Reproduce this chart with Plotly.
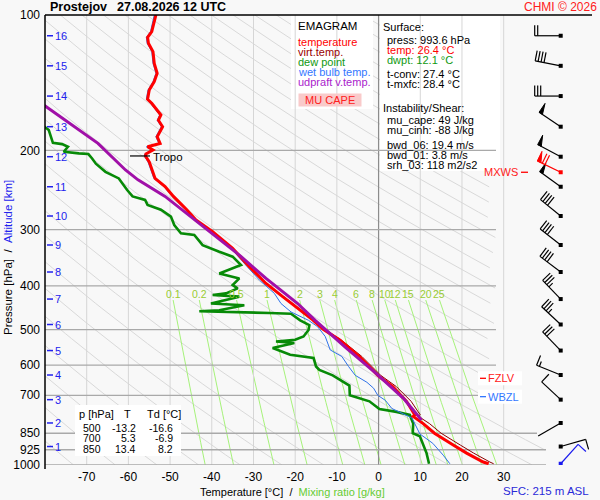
import math
import numpy as np
import plotly.graph_objects as go

# ---------------- data ----------------
station = "Prostejov"
valid_time = "27.08.2026 12 UTC"

# temperature profile (hPa, degC)
temp_p = [100, 108.9, 112.1, 115.6, 120.6, 128.1, 134.7, 140.6, 146.8, 153.9, 157.1, 166.8, 171.3, 177.1,
          186.4, 192.9, 196.3, 199.5, 203.7, 205.7, 212, 221.4, 230.8, 240.6, 253, 270.9, 285.6, 303, 330,
          362.6, 395, 422.6, 445.5, 476, 500, 527, 574, 632, 670, 700, 722, 774, 780, 809, 850, 903, 941,
          985, 993.6]
temp_T = [-53.4, -54.4, -55.4, -55.2, -54.1, -53.8, -53.1, -53.8, -55.0, -55.4, -54.4, -52.2, -52.8, -51.8,
          -53.1, -52.4, -55.4, -54.1, -55.8, -55.9, -55.0, -54.3, -53.6, -51.2, -49.2, -46.0, -43.8, -39.8,
          -35.0, -31.0, -27.0, -23.0, -19.8, -15.8, -13.2, -9.4, -4.6, -0.2, 3.4, 5.3, 6.7, 8.7, 8.3, 10.7,
          13.4, 17.9, 21.1, 25.1, 26.4]

# virtual temperature (lower part, where it differs visibly)
virt_p = [395, 422.6, 445.5, 476, 500, 527, 574, 632, 670, 700, 722, 774, 780, 809, 850, 903, 941, 985, 993.6]
virt_T = [-26.9, -22.8, -19.6, -15.5, -12.9, -9.0, -4.0, 0.5, 4.3, 6.3, 7.8, 10.0, 9.6, 12.2, 15.0, 19.6,
          22.8, 26.7, 27.6]

# dew point
dew_p = [175.5, 180.2, 192.3, 193.6, 196.3, 201.3, 203.0, 203.7, 208.4, 214.0, 223.1, 230.8, 244.9, 253.0,
         257.6, 264.2, 270.9, 280.5, 292.9, 305.5, 308.2, 324.6, 335.8, 344.4, 359.4, 375.2, 384.9, 398.2,
         405.0, 415.5, 419.1, 422.6, 437.7, 441.6, 453.2, 455.5, 459.4, 461.1, 477.0, 489.0, 501.0, 518.0,
         527.0, 531.6, 535.8, 549.5, 569.0, 578.0, 604.0, 615.0, 632.0, 666.0, 700.0, 722.0, 751.0, 762.0,
         774.0, 809.0, 850.0, 863.0, 941.0, 985.0, 993.6]
dew_T = [-80.7, -79.1, -78.1, -75.9, -74.5, -75.5, -71.9, -69.6, -68.7, -67.8, -65.5, -62.3, -60.3, -59.0,
         -56.0, -55.4, -52.2, -49.8, -49.0, -47.4, -44.2, -42.2, -38.2, -35.0, -33.0, -38.2, -33.4, -35.0,
         -33.8, -36.6, -39.8, -33.4, -40.2, -32.2, -38.2, -43.0, -26.2, -21.0, -18.8, -16.6, -16.8, -18.0,
         -20.0, -24.6, -20.2, -25.4, -21.2, -15.6, -15.0, -14.2, -11.0, -7.0, -6.9, -2.2, 0.2, 4.3,
         7.5, 8.3, 8.2, 9.9, 11.5, 11.9, 12.1]

# wet bulb temperature
wb_p = [100, 108.9, 112.1, 115.6, 120.6, 128.1, 134.7, 140.6, 146.8, 153.9, 157.1, 166.8, 171.3, 177.1,
        186.4, 192.9, 196.3, 199.5, 203.7, 205.7, 212, 221.4, 230.8, 240.6, 253, 270.9, 285.6, 303, 330,
        362.6, 388, 415.5, 437.7, 457, 477, 493, 518, 555, 574, 604, 632, 655, 675, 700, 718, 749, 774, 786,
        853, 895, 951, 993.6]
wb_T = [-53.8, -54.7, -55.7, -55.5, -54.4, -54.1, -53.4, -54.1, -55.3, -55.7, -54.7, -52.5, -53.1, -52.1,
        -53.4, -52.7, -55.7, -54.4, -56.1, -56.2, -55.3, -54.6, -53.9, -51.5, -49.5, -46.3, -44.1, -40.1,
        -35.4, -31.5, -28.6, -25.0, -23.4, -21.0, -16.8, -14.6, -12.8, -11.6, -8.8, -7.2, -5.6, -2.8, -1.2,
        -0.2, 1.6, 3.2, 6.5, 8.0, 9.9, 13.0, 15.5, 17.1]

# updraft (MU parcel) virtual temperature
upd_p = [158.5, 171.3, 192.9, 221.0, 232.4, 253.0, 276.0, 283.0, 310.7, 341.5, 385.0, 422.6, 437.7, 477.0,
         549.5, 626.0, 710.0, 786.0, 794.0]
upd_T = [-80.3, -75.1, -67.3, -60.7, -57.7, -51.2, -46.0, -44.6, -39.0, -33.4, -27.0, -21.4, -19.4, -15.2,
         -7.8, -0.6, 5.9, 9.9, 10.3]

# altitude scale (km -> hPa) and winds at these levels (deg, kt)
alt_km = [16, 15, 14, 13, 12, 11, 10, 9, 8, 7, 6, 5, 4, 3, 2, 1]
alt_p = [111.2, 129.7, 151.4, 177.1, 206.5, 240.8, 279.7, 324.4, 372.5, 427.8, 487.3, 556.8, 631.0, 715.8,
         806.5, 909.8]
wind_dir = [270, 281, 270, 304, 298, 306, 309, 308, 307, 316, 313, 316, 292, 313, 240, 74]
wind_spd = [20, 40, 30, 50, 50, 50, 40, 40, 40, 35, 35, 30, 15, 10, 3, 10]
mxws_p, mxws_dir, mxws_spd = 223.6, 296, 70
sfc_p, sfc_dir, sfc_spd = 993.6, 42, 10

tropo_p = 205.7
fzlv_p = 641.7
wbzl_p = 704.9

# mixing ratio isopleths (g/kg)
mr_values = [0.1, 0.2, 0.5, 1, 2, 3, 4, 6, 8, 10, 12, 15, 20, 25]
mr_labels = ["0.1", "0.2", "0.5", "1", "2", "3", "4", "6", "8", "10", "12", "15", "20", "25"]

isobars = [200, 300, 400, 500, 600, 700, 850, 925, 1000]
ylabels = [100, 200, 300, 400, 500, 600, 700, 850, 925, 1000]
isotherms = [-70, -60, -50, -40, -30, -20, -10, 0, 10, 20, 30]

tbl_p = [500, 700, 850]
tbl_T = [-13.2, 5.3, 13.4]
tbl_Td = [-16.6, -6.9, 8.2]

surface_info = [
    ("Surface:", "black", 382, 27),
    ("press: 993.6 hPa", "black", 386, 40),
    ("temp: 26.4 \u00b0C", "#ff0000", 386, 50),
    ("dwpt: 12.1 \u00b0C", "#119911", 386, 60),
    ("t-conv: 27.4 \u00b0C", "black", 386, 74),
    ("t-mxfc: 28.4 \u00b0C", "black", 386, 84),
    ("Instability/Shear:", "black", 382, 108),
    ("mu_cape: 49 J/kg", "black", 386, 120),
    ("mu_cinh: -88 J/kg", "black", 386, 130),
    ("bwd_06: 19.4 m/s", "black", 386, 145),
    ("bwd_01: 3.8 m/s", "black", 386, 155),
    ("srh_03: 118 m2/s2", "black", 386, 165),
]
legend_items = [("temperature", "#ff0000"), ("virt.temp.", "#990000"), ("dew point", "#119911"),
                ("wet bulb temp.", "#3377ff"), ("udpraft v.temp.", "#aa22cc")]

# ---------------- geometry helpers ----------------
FONT = "Liberation Sans, Arial, sans-serif"
W, H = 600, 500
ML, MR, MT, MB = 45, 0, 15, 35
PW, PH = W - ML - MR, H - MT - MB
XR = [-80.0, 53.1]
BG = "#f8f8f8"


def px_T(px):
    return XR[0] + (px - ML) * (XR[1] - XR[0]) / PW


def py_p(py):
    return 10 ** (2 + (py - MT) / PH)


def T_px(T):
    return ML + (T - XR[0]) * PW / (XR[1] - XR[0])


def p_py(p):
    return MT + (math.log10(p) - 2) * PH


def xp(px):
    return (px - ML) / PW


def yp(py):
    return (H - MB - py) / PH


def box(x0, y0, x1, y1, color="white"):
    xs = [px_T(x0), px_T(x1), px_T(x1), px_T(x0), px_T(x0)]
    ys = [py_p(y0), py_p(y0), py_p(y1), py_p(y1), py_p(y0)]
    return go.Scatter(x=xs, y=ys, mode="lines", fill="toself", fillcolor=color,
                      line=dict(width=0, color=color), hoverinfo="skip")


fig = go.Figure()

# dry adiabats
pp = np.logspace(2, 3, 90)
ax, ay = [], []
for theta in range(190, 600, 10):
    T = theta * (pp / 1000.0) ** 0.2857 - 273.15
    for p, t in zip(pp, T):
        tmax = 40.0 if p >= 805 else px_T(496)
        if t <= tmax:
            ax.append(t)
            ay.append(p)
        else:
            ax.append(None)
            ay.append(None)
    ax.append(None)
    ay.append(None)
fig.add_trace(go.Scatter(x=ax, y=ay, mode="lines", line=dict(color="#d9d9d9", width=1), hoverinfo="skip"))

# mixing ratio lines
mp = np.logspace(math.log10(430), 3, 30)
mx, my = [], []
mr_top = []
for w in mr_values:
    e = w * mp / (622.0 + w)
    a = np.log(e / 6.112)
    td = 243.5 * a / (17.67 - a)
    mx += list(td) + [None]
    my += list(mp) + [None]
    mr_top.append(td[0])
fig.add_trace(go.Scatter(x=mx, y=my, mode="lines", line=dict(color="#a6f27a", width=1), hoverinfo="skip"))

# white text boxes
fig.add_trace(box(291, 15, 373, 109))
fig.add_trace(box(380, 15, 500, 171))

# isotherms
vx, vy = [], []
for t in isotherms:
    if t != 0:
        vx += [t, t, None]
        vy += [100, 1000, None]
fig.add_trace(go.Scatter(x=vx, y=vy, mode="lines", line=dict(color="#d6d6d6", width=1), hoverinfo="skip"))
fig.add_trace(go.Scatter(x=[0, 0], y=[100, 1000], mode="lines", line=dict(color="#8c8c8c", width=1.2),
                         hoverinfo="skip"))

# isobars
hx, hy = [], []
for p in isobars:
    right = 496 if p <= 700 else (537 if p == 850 else 546)
    hx += [XR[0], px_T(right), None]
    hy += [p, p, None]
fig.add_trace(go.Scatter(x=hx, y=hy, mode="lines", line=dict(color="#a9a9a9", width=1.3), hoverinfo="skip"))

# table + level label boxes
fig.add_trace(box(75, 405, 181, 456))
fig.add_trace(box(478, p_py(fzlv_p) - 7, 522, p_py(fzlv_p) + 7))
fig.add_trace(box(478, p_py(wbzl_p) - 7, 522, p_py(wbzl_p) + 7))

# profiles
fig.add_trace(go.Scatter(x=dew_T, y=dew_p, mode="lines", line=dict(color="#078a07", width=2.6), hoverinfo="skip"))
fig.add_trace(go.Scatter(x=wb_T, y=wb_p, mode="lines", line=dict(color="#2f72e8", width=1), hoverinfo="skip"))
fig.add_trace(go.Scatter(x=virt_T, y=virt_p, mode="lines", line=dict(color="#8b0000", width=1), hoverinfo="skip"))
fig.add_trace(go.Scatter(x=temp_T, y=temp_p, mode="lines", line=dict(color="#ff0000", width=3), hoverinfo="skip"))
fig.add_trace(go.Scatter(x=upd_T, y=upd_p, mode="lines", line=dict(color="#a010a8", width=3), hoverinfo="skip"))

# tropopause mark
fig.add_trace(go.Scatter(x=[px_T(130), px_T(150)], y=[tropo_p, tropo_p], mode="lines",
                         line=dict(color="black", width=1.2), hoverinfo="skip"))

# altitude dashes
dx, dy = [], []
for p in alt_p:
    dx += [px_T(47), px_T(53), None]
    dy += [p, p, None]
fig.add_trace(go.Scatter(x=dx, y=dy, mode="lines", line=dict(color="#2222ee", width=1.5), hoverinfo="skip"))


# wind barbs
def barb(px0, py0, ddeg, spd):
    L, BL, SP, PWID = 26.0, 10.5, 3.0, 4.0
    d = math.radians(ddeg)
    ux, uy = math.sin(d), -math.cos(d)
    bx, by = math.cos(d), math.sin(d)
    ex, ey = px0 + L * ux, py0 + L * uy
    segs = [[(px0, py0), (ex, ey)]]
    tris = []
    n50 = int(spd // 50)
    rem = spd - 50 * n50
    n10 = int(rem // 10)
    rem -= 10 * n10
    n5 = 1 if rem >= 5 else 0
    pos = 0.0
    for _ in range(n50):
        a = (ex - pos * ux, ey - pos * uy)
        tris.append([a, (a[0] + BL * bx, a[1] + BL * by), (ex - (pos + PWID) * ux, ey - (pos + PWID) * uy)])
        pos += PWID + 1.5
    for _ in range(n10):
        a = (ex - pos * ux, ey - pos * uy)
        segs.append([a, (a[0] + BL * bx, a[1] + BL * by)])
        pos += SP
    if n5:
        if pos == 0:
            pos = SP
        a = (ex - pos * ux, ey - pos * uy)
        segs.append([a, (a[0] + 0.5 * BL * bx, a[1] + 0.5 * BL * by)])
    return segs, tris


def add_barbs(levels, dirs, spds, color):
    lx, ly, tx, ty, ox, oy = [], [], [], [], [], []
    for p, dd, ss in zip(levels, dirs, spds):
        px0, py0 = 560.7, p_py(p)
        segs, tris = barb(px0, py0, dd, ss)
        for s in segs:
            for (x, y) in s:
                lx.append(px_T(x))
                ly.append(py_p(y))
            lx.append(None)
            ly.append(None)
        for t in tris:
            for (x, y) in t + [t[0]]:
                tx.append(px_T(x))
                ty.append(py_p(y))
            tx.append(None)
            ty.append(None)
        ox.append(px_T(px0))
        oy.append(p)
    fig.add_trace(go.Scatter(x=lx, y=ly, mode="lines", line=dict(color=color, width=1.2), hoverinfo="skip"))
    if tx:
        fig.add_trace(go.Scatter(x=tx, y=ty, mode="lines", fill="toself", fillcolor=color,
                                 line=dict(color=color, width=1), hoverinfo="skip"))
    fig.add_trace(go.Scatter(x=ox, y=oy, mode="markers", marker=dict(symbol="square", size=4, color=color),
                             hoverinfo="skip"))


add_barbs(alt_p, wind_dir, wind_spd, "black")
add_barbs([mxws_p], [mxws_dir], [mxws_spd], "#ff0000")
add_barbs([sfc_p], [sfc_dir], [sfc_spd], "#1a1aee")

# level dashes for FZLV / WBZL / MXWS
for p, col, x0, x1 in [(fzlv_p, "#ff0000", 480, 486), (wbzl_p, "#3377ff", 480, 486), (mxws_p, "#ff0000", 521, 528)]:
    fig.add_trace(go.Scatter(x=[px_T(x0), px_T(x1)], y=[p, p], mode="lines", line=dict(color=col, width=1.3),
                             hoverinfo="skip"))

# ---------------- annotations ----------------
ann = []


def A(text, px, py, color="black", size=11, xanchor="left", bg=None, angle=0):
    d = dict(text=text, x=xp(px), y=yp(py), xref="paper", yref="paper", showarrow=False, xanchor=xanchor,
             yanchor="middle", font=dict(family=FONT, size=size, color=color), borderpad=0, textangle=angle)
    if bg:
        d["bgcolor"] = bg
    ann.append(d)


A("<b>" + station + "</b>", 49, 7, size=12.5)
A("<b>" + valid_time + "</b>", 116, 7, size=12.5)
A("CHMI \u00a9 2026", 598, 7, color="#ff2020", size=12, xanchor="right")

A("EMAGRAM", 297, 26, size=11.5)
for i, (txt, col) in enumerate(legend_items):
    A(txt, 297, 42 + 10 * i, color=col, size=11)
A("\u00a0\u00a0MU CAPE\u00a0\u00a0", 298, 100, color="#ff2020", size=11, bg="#f9caca")

for txt, col, x, y in surface_info:
    A(txt, x, y, color=col, size=11)

# altitude numbers
for km, p in zip(alt_km, alt_p):
    A(str(km), 54, p_py(p), color="#2222ee", size=11)

# mixing ratio labels
for lab, t in zip(mr_labels, mr_top):
    A(lab, T_px(t), 294, color="#99cc33", size=10.5, xanchor="center")

A("Tropo", 152, p_py(tropo_p) + 1.5, size=11.5)
A("MXWS", 519, p_py(mxws_p), color="#ff2020", size=11, xanchor="right")
A("FZLV", 487, p_py(fzlv_p), color="#ff2020", size=11)
A("WBZL", 487, p_py(wbzl_p), color="#3377ff", size=11)

# table
A("p [hPa]", 78, 414)
A("T", 127.5, 414, xanchor="center")
A("Td [\u00b0C]", 146, 414)
for i, (p, t, td) in enumerate(zip(tbl_p, tbl_T, tbl_Td)):
    y = 428 + 10.3 * i
    A(str(p), 102, y, xanchor="right", size=10.5)
    A(f"{t:.1f}", 137, y, xanchor="right", size=10.5)
    A(f"{td:.1f}", 174, y, xanchor="right", size=10.5)

A("Temperature [\u00b0C]\u00a0\u00a0/\u00a0\u00a0<span style='color:#66cc33'>Mixing ratio [g/kg]</span>",
  292, 492, size=11, xanchor="center")
A("Pressure [hPa]\u00a0\u00a0/\u00a0\u00a0<span style='color:#2222ee'>Altitude [km]</span>",
  8, 258, size=11.5, xanchor="center", angle=-90)
A("SFC: 215 m ASL", 590, 491, color="#2a2ad8", size=11.5, xanchor="right")

shapes = [
    dict(type="line", xref="paper", yref="paper", x0=0, x1=xp(592), y0=1, y1=1,
         line=dict(color="black", width=1.5), layer="above"),
    dict(type="line", xref="paper", yref="paper", x0=0, x1=0, y0=yp(469), y1=1,
         line=dict(color="black", width=1.5), layer="above"),
]

fig.update_layout(
    width=W, height=H, margin=dict(l=ML, r=MR, t=MT, b=MB),
    paper_bgcolor=BG, plot_bgcolor=BG, showlegend=False,
    annotations=ann, shapes=shapes,
    xaxis=dict(range=XR, showgrid=False, zeroline=False, showline=False, tickmode="array",
               tickvals=isotherms, ticktext=[str(t) for t in isotherms], ticks="",
               tickfont=dict(family=FONT, size=12, color="black"), ticklabelstandoff=3, fixedrange=True),
    yaxis=dict(type="log", range=[3, 2], showgrid=False, zeroline=False, showline=False, tickmode="array",
               tickvals=ylabels, ticktext=[str(v) for v in ylabels], ticks="",
               tickfont=dict(family=FONT, size=12, color="black"), ticklabelstandoff=4, fixedrange=True),
)

fig.write_html("out.html", config={"displayModeBar": False, "staticPlot": True},
               post_script="document.body.style.margin='0px';document.body.style.overflow='hidden';")
